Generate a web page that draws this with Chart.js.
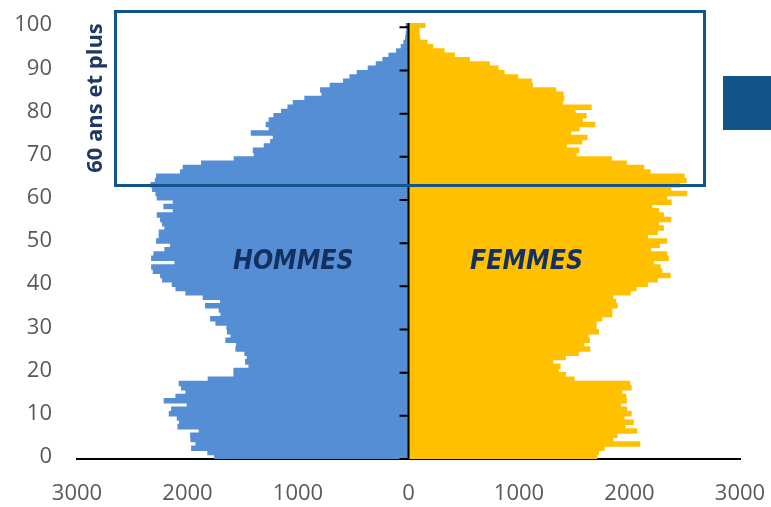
<!DOCTYPE html>
<html lang="fr">
<head>
<meta charset="utf-8">
<title>Pyramide des âges</title>
<script src="https://cdn.jsdelivr.net/npm/chart.js@4/dist/chart.umd.min.js"></script>
<style>
  html, body { margin: 0; padding: 0; background: #fff; }
  #cadre { position: relative; width: 771px; height: 507px; overflow: hidden; }
  #pyramide { position: absolute; left: 0; top: 0; }
  .sexe {
    position: absolute; top: 244px;
    font: italic bold 27px "DejaVu Sans", sans-serif;
    color: #14305e;
    transform: scaleX(0.88); transform-origin: left top;
  }
  #boite {
    position: absolute; left: 114px; top: 10px; width: 592px; height: 177px;
    box-sizing: border-box; border: 3px solid #11558a;
  }
  #carre { position: absolute; left: 723px; top: 76px; width: 60px; height: 54px; background: #11558a; }
  #seniors {
    position: absolute; left: 93px; top: 98px;
    font: bold 22px "Open Sans", sans-serif; color: #1f3864;
    white-space: nowrap; transform: translate(-50%, -50%) rotate(-90deg);
  }
</style>
</head>
<body>
<div id="cadre">
  <canvas id="pyramide" width="771" height="507"></canvas>
  <div id="boite"></div>
  <div id="carre"></div>
  <div id="seniors">60 ans et plus</div>
  <div class="sexe" style="left:233px">HOMMES</div>
  <div class="sexe" style="left:470px">FEMMES</div>
</div>
<script>
// Âges de 0 à 100 ans (une barre par âge)
const ages = [];
for (let a = 0; a <= 100; a++) ages.push(String(a));

// Effectifs, de 0 à 100 ans
const hommes = [
  1754, 1815, 1962, 1923, 1968, 1971, 1893, 2086, 2071, 2092,
  2164, 2143, 2002, 2210, 2104, 2014, 2053, 2074, 1812, 1579,
  1579, 1443, 1474, 1459, 1480, 1561, 1555, 1652, 1606, 1637,
  1643, 1742, 1790, 1697, 1712, 1836, 1700, 1857, 2014, 2104,
  2137, 2225, 2243, 2309, 2324, 2113, 2324, 2303, 2204, 2152,
  2279, 2255, 2255, 2204, 2225, 2243, 2273, 2128, 2213, 2128,
  2273, 2285, 2315, 2330, 2290, 2279, 2062, 2038, 1872, 1576,
  1395, 1404, 1305, 1247, 1223, 1422, 1260, 1287, 1260, 1217,
  1148, 1090, 1042, 937, 783, 795, 708, 587, 529, 463,
  364, 291, 231, 176, 107, 65, 41, 25, 20, 15,
  20
];
const femmes = [
  1703, 1718, 1769, 2092, 1848, 1887, 2065, 1959, 2034, 1950,
  2014, 1974, 1917, 1971, 1966, 1929, 2014, 2002, 1498, 1419,
  1353, 1371, 1305, 1419, 1537, 1640, 1585, 1636, 1624, 1718,
  1697, 1697, 1748, 1839, 1839, 1887, 1875, 1848, 2005, 2059,
  2161, 2252, 2367, 2291, 2276, 2216, 2351, 2336, 2192, 2270,
  2336, 2161, 2252, 2306, 2261, 2373, 2306, 2261, 2201, 2376,
  2336, 2517, 2373, 2450, 2511, 2493, 2186, 2128, 1971, 1835,
  1516, 1540, 1428, 1567, 1615, 1468, 1543, 1685, 1573, 1606,
  1507, 1652, 1392, 1404, 1398, 1332, 1121, 1111, 988, 864,
  810, 731, 550, 415, 321, 219, 167, 100, 95, 95,
  149
];

// Graduations de l'axe horizontal
const graduations = [-3000, -2000, -1000, 0, 1000, 2000, 3000];

// Axe vertical au centre (x = 0) avec ses petites marques tous les 10 ans
const axeCentral = {
  id: "axeCentral",
  afterDatasetsDraw(chart) {
    const { ctx, chartArea, scales: { x, y } } = chart;
    const x0 = x.getPixelForValue(0);
    const demi = (y.getPixelForValue(0) - y.getPixelForValue(1)) / 2;
    ctx.save();
    ctx.strokeStyle = "#000";
    ctx.lineWidth = 2;
    ctx.beginPath();
    ctx.moveTo(x0, chartArea.top);
    ctx.lineTo(x0, chartArea.bottom);
    for (let a = 0; a <= 100; a += 10) {
      const yy = y.getPixelForValue(a) + demi;
      ctx.moveTo(x0 - 9, yy);
      ctx.lineTo(x0, yy);
    }
    ctx.stroke();
    ctx.restore();
  }
};

new Chart(document.getElementById("pyramide"), {
  type: "bar",
  data: {
    labels: ages,
    datasets: [
      { label: "Hommes", data: hommes.map(v => -v), backgroundColor: "#558ed5" },
      { label: "Femmes", data: femmes, backgroundColor: "#ffc000" }
    ]
  },
  options: {
    indexAxis: "y",
    responsive: false,
    animation: false,
    barPercentage: 1,
    categoryPercentage: 1,
    borderWidth: 0,
    inflateAmount: 0.6,
    layout: { padding: { top: 23, right: 31, left: 0, bottom: 0 } },
    plugins: { legend: { display: false }, tooltip: { enabled: false } },
    scales: {
      x: {
        stacked: true,
        min: -3000,
        max: 3000,
        z: 1,
        afterBuildTicks: s => { s.ticks = graduations.map(v => ({ value: v })); },
        afterFit: s => {
          s.height = 48;
          s.paddingLeft = 0; s.paddingRight = 0;
        },
        grid: { display: false, drawTicks: false },
        border: { display: true, color: "#000", width: 2 },
        ticks: {
          padding: 22,
          color: "#595959",
          font: { family: "Open Sans", size: 22 },
          callback: v => Math.abs(v)
        }
      },
      y: {
        stacked: true,
        reverse: true,
        afterFit: s => {
          s.width = 77;
          s.paddingTop = 0; s.paddingBottom = 0;
        },
        grid: { display: false, drawTicks: false },
        border: { display: false },
        ticks: {
          autoSkip: false,
          padding: 25,
          color: "#595959",
          font: { family: "Open Sans", size: 22 },
          callback: function (v, i) { return i % 10 === 0 ? this.getLabelForValue(v) : ""; }
        }
      }
    }
  },
  plugins: [axeCentral]
});
</script>
</body>
</html>
